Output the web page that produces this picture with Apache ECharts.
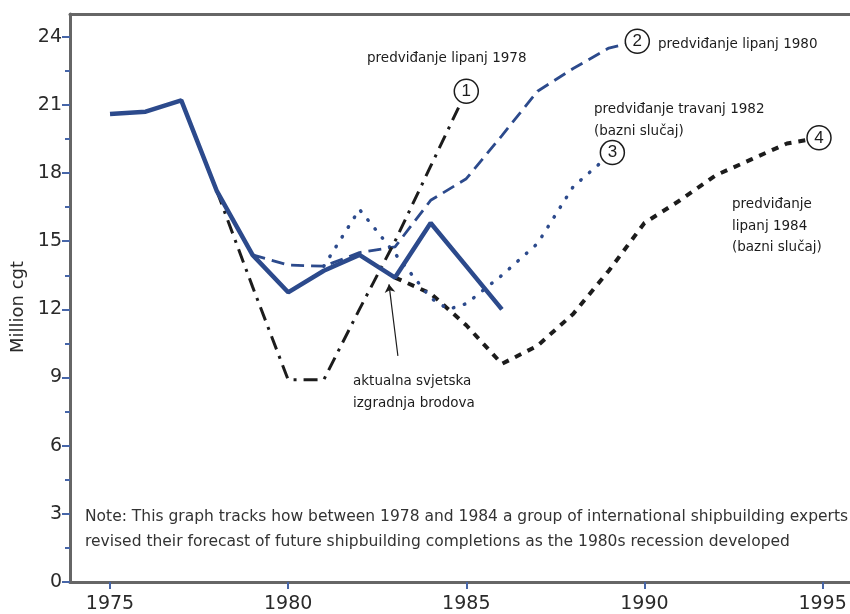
<!DOCTYPE html>
<html lang="hr">
<head>
    <meta charset="UTF-8">
    <title>Million cgt - predviđanja</title>
    <script src="https://cdn.jsdelivr.net/npm/echarts@6/dist/echarts.min.js"></script>
</head>
<body style="margin:0;background:#fff;">
    <div id="main" style="width: 850px; height: 614px;"></div>
    <script>
        const chart = echarts.init(document.getElementById('main'));

        // values: [year, million cgt]
        const actual = [[1975, 20.6], [1976, 20.7], [1977, 21.2], [1978, 17.2], [1979, 14.4], [1980, 12.75],
            [1981, 13.7], [1982, 14.4], [1983, 13.4], [1984, 15.8], [1985, 13.9], [1986, 12.0]];
        const forecast1978 = [[1978, 17.2], [1979, 13.0], [1980, 8.9], [1981, 8.9], [1982, 12.0], [1983, 15.0],
            [1984, 18.3], [1985, 21.6]];
        const forecast1980 = [[1979, 14.4], [1980, 13.95], [1981, 13.9], [1982, 14.5], [1983, 14.75], [1984, 16.8],
            [1985, 17.75], [1986, 19.65], [1987, 21.6], [1988, 22.6], [1989, 23.5], [1989.8, 23.8]];
        const forecast1982 = [[1981, 13.9], [1982, 16.4], [1983, 14.45], [1984, 12.5], [1984.5, 12.0], [1985, 12.25],
            [1986, 13.5], [1987, 14.9], [1988, 17.4], [1989.1, 18.9]];
        const forecast1984 = [[1983, 13.4], [1984, 12.7], [1985, 11.3], [1986, 9.6], [1987, 10.4], [1988, 11.8],
            [1989, 13.7], [1990, 15.8], [1991, 16.8], [1992, 17.9], [1993, 18.6], [1994, 19.3], [1994.9, 19.55]];

        const xTicks = [1975, 1980, 1985, 1990, 1995];
        const yTicks = [0, 3, 6, 9, 12, 15, 18, 21, 24];
        const yMinorTicks = [1.5, 4.5, 7.5, 10.5, 13.5, 16.5, 19.5, 22.5];

        const blue = '#2c4a8c';
        const ink = '#1c1c1c';
        const axisGray = '#666';
        const tickBlue = '#4766a8';
        const labelFont = 'DejaVu Sans';

        function circleMark(data, num) {
            return {
                silent: true,
                symbol: 'circle',
                symbolSize: 24,
                itemStyle: { color: '#fff', borderColor: ink, borderWidth: 1.5 },
                label: {
                    show: true, position: 'inside', formatter: num,
                    color: ink, fontSize: 17, fontFamily: 'Liberation Sans'
                },
                data: [{ coord: data[data.length - 1] }]
            };
        }

        function text(left, top, str) {
            return {
                type: 'text', left: left, top: top, z: 100,
                style: { text: str, fill: ink, font: '13.5px "DejaVu Sans"', lineHeight: 21.5 }
            };
        }

        const option = {
            backgroundColor: '#fff',
            animation: false,
            grid: { left: 70, top: 14, right: 0, bottom: 32, outerBoundsMode: 'none' },
            xAxis: [{
                type: 'value',
                min: 1973.877,
                max: 1995.77,
                axisLine: { show: true, onZero: false, lineStyle: { color: axisGray, width: 3 } },
                axisTick: { length: 7, customValues: xTicks, lineStyle: { color: tickBlue, width: 2 } },
                axisLabel: {
                    customValues: xTicks, margin: 13, color: '#2a2a2a',
                    fontSize: 19, fontFamily: labelFont,
                    formatter: function (v) { return String(v); }
                },
                splitLine: { show: false }
            }, {
                type: 'value',
                position: 'top',
                min: 1973.877,
                max: 1995.77,
                axisLine: { show: true, onZero: false, lineStyle: { color: axisGray, width: 3 } },
                axisTick: { show: false },
                axisLabel: { show: false },
                splitLine: { show: false }
            }],
            yAxis: [{
                type: 'value',
                min: 0,
                max: 25,
                name: 'Million cgt',
                nameLocation: 'middle',
                nameGap: 40,
                nameTextStyle: {
                    color: '#2a2a2a', fontSize: 18, fontFamily: labelFont,
                    padding: [0, 18, 0, 0]
                },
                axisLine: { show: true, onZero: false, lineStyle: { color: axisGray, width: 3 } },
                axisTick: { length: 8, customValues: yTicks, lineStyle: { color: tickBlue, width: 2 } },
                axisLabel: {
                    customValues: yTicks, margin: 8, color: '#2a2a2a',
                    fontSize: 19, fontFamily: labelFont
                },
                splitLine: { show: false }
            }, {
                type: 'value',
                position: 'left',
                offset: 0,
                min: 0,
                max: 25,
                axisLine: { show: false },
                axisTick: { length: 5, customValues: yMinorTicks, lineStyle: { color: tickBlue, width: 2 } },
                axisLabel: { show: false },
                splitLine: { show: false }
            }],
            series: [
                {
                    name: 'predviđanje lipanj 1984',
                    type: 'line', data: forecast1984, symbol: 'none', z: 3,
                    lineStyle: { color: ink, width: 4, type: [7, 7] },
                    markPoint: circleMark(forecast1984, '4')
                },
                {
                    name: 'predviđanje travanj 1982',
                    type: 'line', data: forecast1982, symbol: 'none', z: 3,
                    lineStyle: { color: blue, width: 3.5, type: [0.5, 11], cap: 'round' },
                    markPoint: circleMark(forecast1982, '3')
                },
                {
                    name: 'predviđanje lipanj 1980',
                    type: 'line', data: forecast1980, symbol: 'none', z: 3,
                    lineStyle: { color: blue, width: 2.8, type: [13, 7] },
                    markPoint: circleMark(forecast1980, '2')
                },
                {
                    name: 'predviđanje lipanj 1978',
                    type: 'line', data: forecast1978, symbol: 'none', z: 3,
                    lineStyle: { color: ink, width: 3, type: [14, 7, 3, 7] },
                    markPoint: circleMark(forecast1978, '1')
                },
                {
                    name: 'aktualna svjetska izgradnja brodova',
                    type: 'line', data: actual, symbol: 'none', z: 4,
                    lineStyle: { color: blue, width: 4.5 },
                    markLine: {
                        silent: true,
                        symbol: ['none', 'arrow'],
                        symbolSize: 8,
                        label: { show: false },
                        lineStyle: { color: ink, width: 1.2, type: 'solid' },
                        data: [[{ coord: [1983.08, 9.95] }, { coord: [1982.83, 13.1] }]]
                    }
                }
            ],
            graphic: [
                text(367, 48, 'predviđanje lipanj 1978'),
                text(658, 34, 'predviđanje lipanj 1980'),
                text(594, 99, 'predviđanje travanj 1982\n(bazni slučaj)'),
                text(732, 194, 'predviđanje\nlipanj 1984\n(bazni slučaj)'),
                text(353, 371, 'aktualna svjetska\nizgradnja brodova'),
                {
                    type: 'text', left: 85, top: 505, z: 100,
                    style: {
                        text: 'Note: This graph tracks how between 1978 and 1984 a group of international shipbuilding experts\n' +
                            'revised their forecast of future shipbuilding completions as the 1980s recession developed',
                        fill: '#333', font: '15.5px "DejaVu Sans"', lineHeight: 24.5
                    }
                }
            ]
        };

        chart.setOption(option);
    </script>
</body>
</html>
